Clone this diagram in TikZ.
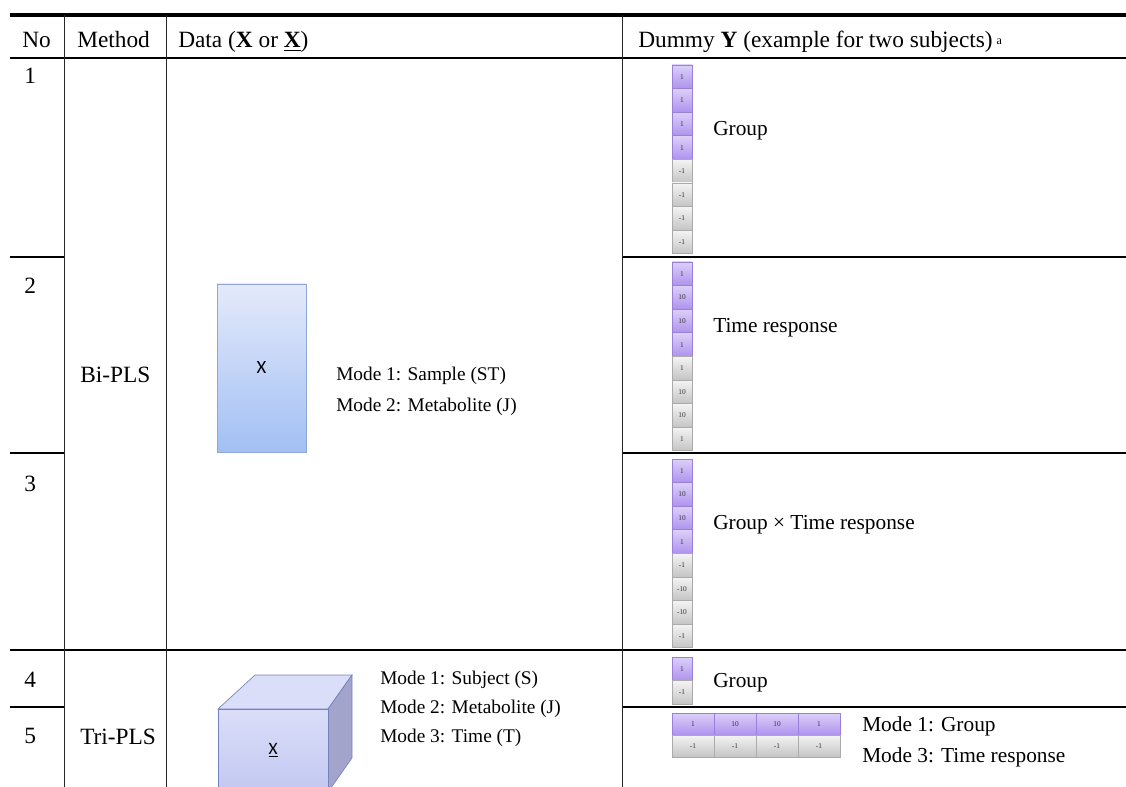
\documentclass[tikz,border=0pt]{standalone}
\usepackage{fontspec}
\setmainfont{Liberation Serif}
\setsansfont{Carlito}
\usepackage{tikz}
\usetikzlibrary{shadows}

\definecolor{purpletop}{HTML}{DCD0F8}
\definecolor{purplebot}{HTML}{AF92EE}
\definecolor{purpleline}{HTML}{9A80D8}
\definecolor{graytop}{HTML}{F4F4F4}
\definecolor{graybot}{HTML}{C4C4C4}
\definecolor{grayline}{HTML}{ABABAB}
\definecolor{boxtop}{HTML}{E4EAFB}
\definecolor{boxbot}{HTML}{A2C0F4}
\definecolor{boxline}{HTML}{8EA6D6}
\definecolor{cubefront}{HTML}{C3C8F2}
\definecolor{cubetop}{HTML}{DADEF8}
\definecolor{cubeside}{HTML}{A2A4CC}
\definecolor{cubeline}{HTML}{7383BC}

\begin{document}
\begin{tikzpicture}[x=0.75pt, y=-0.75pt,
  font=\fontsize{17.5}{19}\selectfont,
  txt/.style={anchor=base west, inner sep=0pt},
  modetxt/.style={txt, font=\fontsize{14.5}{16}\selectfont},
  ytxt/.style={txt, font=\fontsize{16}{18}\selectfont},
  ycell/.style={draw, line width=0.5pt, minimum width=15pt, minimum height=17.7pt,
    inner sep=0pt, font=\fontsize{5.5}{6}\selectfont, text=black!80},
  pcell/.style={ycell, draw=purpleline, top color=purpletop, bottom color=purplebot},
  gcell/.style={ycell, draw=grayline, top color=graytop, bottom color=graybot},
  hcell/.style={minimum width=31.5pt, minimum height=16.5pt},
  toprule/.style={line width=2.4pt},
  midrule/.style={line width=1.4pt},
  thinrule/.style={line width=0.8pt},
  vrule/.style={line width=0.6pt, black!85}
]
  \useasboundingbox (0,0) rectangle (1126,787);

  % Table rules
  \draw[toprule] (10,15) -- (1126,15);
  \draw[midrule] (10,58) -- (1126,58);
  \draw[midrule] (10,257) -- (64,257) (622,257) -- (1126,257);
  \draw[midrule] (10,453) -- (64,453) (622,453) -- (1126,453);
  \draw[thinrule] (10,650) -- (1126,650);
  \draw[midrule] (10,707) -- (64,707) (622,707) -- (1126,707);
  \foreach \x in {64,166,622}
    \draw[vrule] (\x,15) -- (\x,787);

  % Header
  \node[txt] (hno) at (22,48) {No};
  \node[txt] (hmethod) at (77,48) {Method};
  \node[txt] (hdata) at (178,48) {Data (\textbf{X} or \underline{\textbf{X}})};
  \node[txt] (hdummy) at (638,48) {Dummy \textbf{Y} (example for two subjects)\,{\fontsize{9}{9}\selectfont\raisebox{0.55ex}{a}}};

  % Row numbers
  \node[txt] (no1) at (24,84) {1};
  \node[txt] (no2) at (24,294) {2};
  \node[txt] (no3) at (24,491) {3};
  \node[txt] (no4) at (24,687) {4};
  \node[txt] (no5) at (24,743) {5};

  % Methods
  \node[txt] (bipls) at (80,382) {Bi-PLS};
  \node[txt] (tripls) at (80,744) {Tri-PLS};

  % Two-way data
  \node[draw=boxline, line width=0.5pt, top color=boxtop, bottom color=boxbot,
    minimum width=66.75pt, minimum height=126pt, inner sep=0pt,
    drop shadow={opacity=0.25, shadow xshift=1pt, shadow yshift=-1pt},
    font=\sffamily\fontsize{14}{16}\selectfont] (xmat) at (261.5,368) {X};
  \node[modetxt] (bimode1) at (336,380) {Mode 1: Sample (ST)};
  \node[modetxt] (bimode2) at (336,411) {Mode 2: Metabolite (J)};

  % Three-way data
  \begin{scope}[draw=cubeline, line width=0.5pt]
    \filldraw[fill=cubetop] (218,709) -- (255,675) -- (352,675) -- (328,709) -- cycle;
    \filldraw[fill=cubeside] (328,709) -- (352,675) -- (352,758) -- (328,792) -- cycle;
    \filldraw[top color=cubetop, bottom color=cubefront] (218,709) rectangle (328,792);
  \end{scope}
  \node[font=\sffamily\fontsize{13}{15}\selectfont] (xten) at (273,750) {\underline{X}};
  \node[modetxt] (trimode1) at (380,684) {Mode 1: Subject (S)};
  \node[modetxt] (trimode2) at (380,713) {Mode 2: Metabolite (J)};
  \node[modetxt] (trimode3) at (380,742) {Mode 3: Time (T)};

  % Dummy Y, row 1
  \foreach \v [count=\i] in {1,1,1,1}
    \node[pcell] (ya\i) at (682,{53.2+23.6*\i}) {\v};
  \foreach \v [count=\i from 5] in {-1,-1,-1,-1}
    \node[gcell] (ya\i) at (682,{53.2+23.6*\i}) {\v};
  \node[ytxt] (lgroup) at (713,136) {Group};

  % Dummy Y, row 2
  \foreach \v [count=\i] in {1,10,10,1}
    \node[pcell] (yb\i) at (682,{250.2+23.6*\i}) {\v};
  \foreach \v [count=\i from 5] in {1,10,10,1}
    \node[gcell] (yb\i) at (682,{250.2+23.6*\i}) {\v};
  \node[ytxt] (ltime) at (713,333) {Time response};

  % Dummy Y, row 3
  \foreach \v [count=\i] in {1,10,10,1}
    \node[pcell] (yc\i) at (682,{447.2+23.6*\i}) {\v};
  \foreach \v [count=\i from 5] in {-1,-10,-10,-1}
    \node[gcell] (yc\i) at (682,{447.2+23.6*\i}) {\v};
  \node[ytxt] (lgrtime) at (713,529) {Group × Time response};

  % Dummy Y, row 4
  \node[pcell] (yd1) at (682,668.8) {1};
  \node[gcell] (yd2) at (682,692.4) {-1};
  \node[ytxt] (lgroupb) at (713,687) {Group};

  % Dummy Y, row 5
  \foreach \v [count=\i] in {1,10,10,1}
    \node[pcell, hcell] (ye\i) at ({651+42*\i},724) {\v};
  \foreach \i in {1,...,4}
    \node[gcell, hcell] (yf\i) at ({651+42*\i},746) {-1};
  \node[ytxt] (lmode1) at (862,731) {Mode 1: Group};
  \node[ytxt] (lmode3) at (862,762) {Mode 3: Time response};
\end{tikzpicture}
\end{document}
